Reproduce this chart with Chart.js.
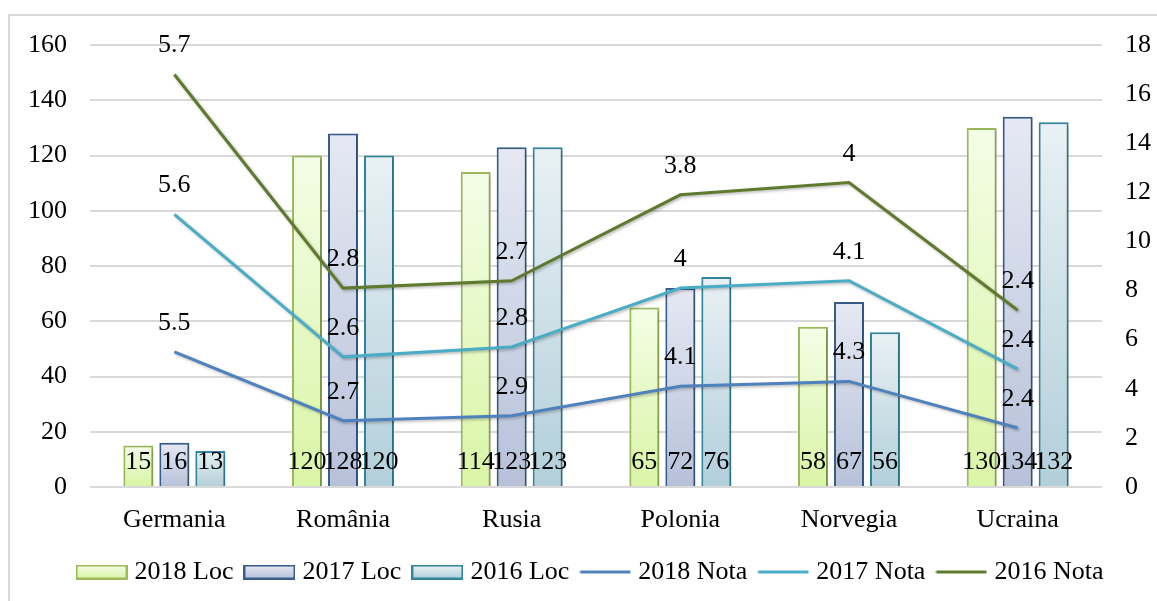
<!DOCTYPE html>
<html>
<head>
<meta charset="utf-8">
<script src="https://cdn.jsdelivr.net/npm/chart.js@4.4.1/dist/chart.umd.min.js"></script>
<style>
  html, body { margin: 0; padding: 0; background: #fff; }
  #wrap { width: 1157px; height: 601px; position: relative; }
</style>
</head>
<body>
<div id="wrap"><canvas id="chart"></canvas></div>
<script>
const countries = ['Germania', 'România', 'Rusia', 'Polonia', 'Norvegia', 'Ucraina'];

const loc2018 = [15, 120, 114, 65, 58, 130];
const loc2017 = [16, 128, 123, 72, 67, 134];
const loc2016 = [13, 120, 123, 76, 56, 132];

const nota2018 = [5.5, 2.7, 2.9, 4.1, 4.3, 2.4];
const nota2017 = [5.6, 2.6, 2.8, 4, 4.1, 2.4];
const nota2016 = [5.7, 2.8, 2.7, 3.8, 4, 2.4];

const locTicks = [0, 20, 40, 60, 80, 100, 120, 140, 160];
const notaTicks = [0, 2, 4, 6, 8, 10, 12, 14, 16, 18];

const FONT = "'Liberation Serif', 'Times New Roman', serif";
const FS = 26;

// top / bottom colours of each bar gradient, and its border
const barStyles = [
  { top: '#f4fde6', bottom: '#d9f5a6', border: '#9bbb59' },
  { top: '#e6e9f3', bottom: '#b6c1d9', border: '#385d8a' },
  { top: '#e9f1f4', bottom: '#b2cfda', border: '#31859c' }
];
const lineColors = ['#4f81bd', '#4bacc6', '#5f7a2f'];

function barFill(style) {
  return function (c) {
    const chart = c.chart;
    const area = chart.chartArea;
    if (!area || c.raw === undefined) return style.top;
    const y = chart.scales.y;
    const g = chart.ctx.createLinearGradient(0, y.getPixelForValue(c.raw), 0, y.getPixelForValue(0));
    g.addColorStop(0, style.top);
    g.addColorStop(1, style.bottom);
    return g;
  };
}

function barSwatch(style) {
  const cv = document.createElement('canvas');
  cv.width = 52; cv.height = 15;
  const x = cv.getContext('2d');
  const g = x.createLinearGradient(0, 1, 0, 14);
  g.addColorStop(0, style.top);
  g.addColorStop(1, style.bottom);
  x.fillStyle = g;
  x.fillRect(1, 1, 50, 13);
  x.strokeStyle = style.border;
  x.lineWidth = 2;
  x.strokeRect(1, 1, 50, 13);
  return cv;
}

function lineSwatch(color) {
  const cv = document.createElement('canvas');
  cv.width = 52; cv.height = 15;
  const x = cv.getContext('2d');
  x.strokeStyle = color;
  x.lineWidth = 3;
  x.lineCap = 'round';
  x.beginPath();
  x.moveTo(2, 7.5);
  x.lineTo(50, 7.5);
  x.stroke();
  return cv;
}

function barDataset(label, data, style) {
  return {
    type: 'bar', label, data, yAxisID: 'y', order: 1,
    backgroundColor: barFill(style), borderColor: style.border, borderWidth: 2,
    categoryPercentage: 0.64, barPercentage: 0.833,
    swatch: barSwatch(style)
  };
}

function lineDataset(label, data, color) {
  return {
    type: 'line', label, data, yAxisID: 'y2', order: 0,
    borderColor: color, backgroundColor: color, borderWidth: 3,
    pointRadius: 0, tension: 0, fill: false,
    swatch: lineSwatch(color)
  };
}

const frameAndLabels = {
  id: 'frameAndLabels',
  beforeDraw(chart) {
    const ctx = chart.ctx;
    ctx.save();
    ctx.strokeStyle = '#d9d9d9';
    ctx.lineWidth = 2;
    ctx.strokeRect(9, 15, 1200, 700);
    ctx.restore();
  },
  beforeDatasetDraw(chart) {
    const ctx = chart.ctx;
    ctx.shadowColor = 'rgba(0,0,0,0.28)';
    ctx.shadowBlur = 3;
    ctx.shadowOffsetX = 1.5;
    ctx.shadowOffsetY = 1.5;
  },
  afterDatasetDraw(chart) {
    const ctx = chart.ctx;
    ctx.shadowColor = 'rgba(0,0,0,0)';
    ctx.shadowBlur = 0;
    ctx.shadowOffsetX = 0;
    ctx.shadowOffsetY = 0;
  },
  afterDatasetsDraw(chart) {
    const ctx = chart.ctx;
    const base = chart.scales.y.getPixelForValue(0);
    ctx.save();
    ctx.font = FS + 'px ' + FONT;
    ctx.fillStyle = '#000';
    ctx.textAlign = 'center';
    ctx.textBaseline = 'alphabetic';
    chart.data.datasets.forEach((ds, i) => {
      const meta = chart.getDatasetMeta(i);
      meta.data.forEach((el, j) => {
        if (ds.type === 'bar') {
          ctx.fillText(String(ds.data[j]), el.x, base - 18);
        } else {
          ctx.fillText(String(ds.data[j]), el.x, el.y - 22);
        }
      });
    });
    ctx.restore();
  }
};

new Chart(document.getElementById('chart'), {
  data: {
    labels: countries,
    datasets: [
      barDataset('2018 Loc', loc2018, barStyles[0]),
      barDataset('2017 Loc', loc2017, barStyles[1]),
      barDataset('2016 Loc', loc2016, barStyles[2]),
      lineDataset('2018 Nota', nota2018, lineColors[0]),
      lineDataset('2017 Nota', nota2017, lineColors[1]),
      lineDataset('2016 Nota', nota2016, lineColors[2])
    ]
  },
  options: {
    responsive: true,
    maintainAspectRatio: false,
    animation: false,
    layout: { padding: { top: 45, left: 28, right: 0, bottom: 6 } },
    plugins: {
      tooltip: { enabled: false },
      legend: {
        position: 'bottom',
        labels: {
          usePointStyle: true,
          pointStyleWidth: 40,
          padding: 16,
          color: '#000',
          font: { family: FONT, size: FS },
          generateLabels(chart) {
            return chart.data.datasets.map((ds, i) => ({
              text: ds.label,
              pointStyle: ds.swatch,
              datasetIndex: i,
              hidden: false,
              fontColor: '#000',
              lineWidth: 0
            }));
          }
        }
      }
    },
    scales: {
      x: {
        stacked: false,
        grid: { display: false },
        border: { display: false },
        ticks: { color: '#000', font: { family: FONT, size: FS }, padding: 10, maxRotation: 0 },
        afterFit(s) { s.height = 56; }
      },
      y: {
        position: 'left',
        min: locTicks[0], max: locTicks[locTicks.length - 1],
        grid: { color: '#d9d9d9', lineWidth: 2, drawTicks: false },
        border: { display: false },
        afterBuildTicks(s) { s.ticks = locTicks.map(v => ({ value: v })); },
        ticks: { color: '#000', font: { family: FONT, size: FS }, padding: 23 },
        afterFit(s) { s.width = 62; }
      },
      y2: {
        position: 'right',
        stacked: true,
        min: notaTicks[0], max: notaTicks[notaTicks.length - 1],
        grid: { display: false, drawTicks: false },
        border: { display: false },
        afterBuildTicks(s) { s.ticks = notaTicks.map(v => ({ value: v })); },
        ticks: { color: '#000', font: { family: FONT, size: FS }, padding: 23 },
        afterFit(s) { s.width = 55; }
      }
    }
  },
  plugins: [frameAndLabels]
});
</script>
</body>
</html>
